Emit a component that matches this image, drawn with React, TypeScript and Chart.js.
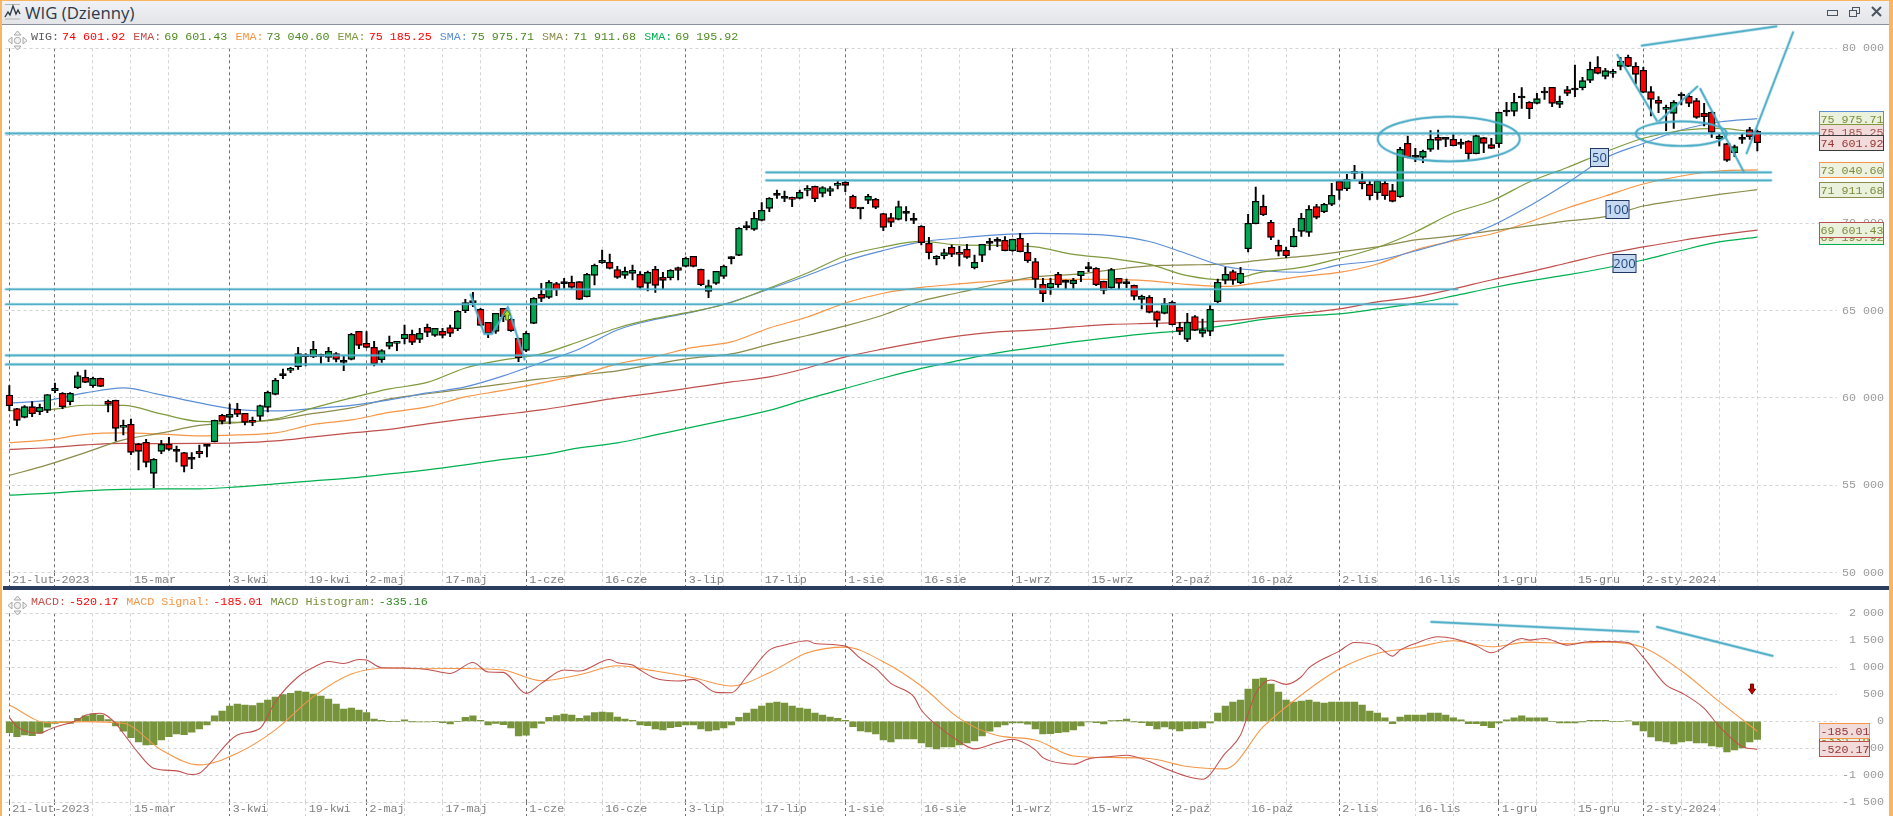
import React, { useEffect, useRef } from "react";
import { Chart, registerables } from "chart.js";

Chart.register(...registerables);

const opens = [
60167,59385,58889,59499,59213,59290,60415,60262,59785,60586,
61178,60701,61120,59804,59862,58317,58489,57364,57459,55685,
56944,57345,57001,56868,56544,56944,57268,57497,59004,58889,
59347,59118,58718,58946,59461,60205,61330,61578,61788,62398,
62341,62417,62322,62532,62093,62207,63809,63123,62894,62188,
62951,63123,63390,63638,63352,64038,63580,63809,64019,63962,
64992,65487,65068,64324,63809,65125,64496,63409,62722,64267,
65926,65754,66536,66574,66612,66650,65792,67013,67738,67756,
67337,67013,67127,67070,66555,67356,66898,66879,67451,67528,
68100,67356,66098,66555,66956,67985,68157,69759,69645,70159,
70846,71628,71456,71456,71418,71876,72105,71704,71818,72162,
72333,71532,70827,71304,71361,70541,70312,70217,70598,70178,
69816,68843,67966,68138,68615,68310,68500,67451,68157,68901,
69015,69015,68424,69130,68329,67795,66498,66307,67070,66670,
66536,66994,67413,67413,66670,66307,66841,66555,66441,65640,
65754,64934,64839,65468,64038,63351,64648,63695,63809,65506,
66727,67223,66593,68538,69969,70960,70045,68729,68443,68653,
69530,69473,70941,70655,71075,72389,71970,72866,72408,72218,
71741,72275,71855,71512,74563,73801,73762,74220,74907,74811,
74792,74544,74678,73972,74888,74487,74544,76394,76394,77195,
76909,76852,77481,77767,76795,77634,77653,77748,78168,78911,
78396,78568,78968,79483,78968,78740,77519,77023,76508,76280,
77309,77252,77004,76280,76337,74830,74544,74029,74849,75345,
75250];
const closes = [
59557,58718,59499,59099,59461,60186,60548,59499,60262,61273,
60892,61120,60663,59633,58260,58432,56887,56944,56315,56487,
57345,57058,56944,56086,56487,56810,57230,58718,58660,59061,
59061,58603,58603,59557,60320,61006,61273,61693,62532,62360,
62780,62379,62665,62207,62036,63638,63008,62894,61959,62703,
63180,63237,63638,63180,63695,63752,63981,63580,63695,64953,
65449,65449,64152,63695,64839,64648,63847,62284,63695,65697,
65697,66612,66174,66536,66327,65640,67070,67585,67871,67413,
66898,67242,67299,66327,67184,66441,66727,67299,67299,67985,
67528,66479,66422,67242,67528,67966,69702,69740,70274,70731,
71418,71590,71418,71361,71761,71971,71399,72028,71971,72257,
72162,70846,70808,71532,70903,69759,70045,70941,70560,70159,
68882,68310,68100,68310,68214,68214,68043,67757,68786,68843,
68958,68424,69072,68367,67852,66784,65964,66555,66479,66612,
66727,67242,67394,66479,66155,67337,66555,66536,65812,65812,
64897,64438,65392,64191,63809,64324,63866,63904,65068,66612,
67070,66727,67127,69988,71246,70484,69187,68386,68138,69244,
70274,70789,70331,71075,71590,71875,72504,72847,72256,71569,
72408,71569,71245,74220,73762,73762,74106,74792,74735,74792,
74430,74506,73972,75002,74563,74277,76337,76356,76909,77157,
76547,77119,77443,76852,76966,77424,77615,78148,78797,78568,
78721,78663,79274,78968,78511,77481,77080,76852,76604,76909,
77271,76852,76051,76089,75193,74964,73591,74373,74792,74945,
74601.92];
const highs = [
60701,59404,59557,59785,59652,60186,60853,60300,60300,61483,
61597,61197,61140,59881,59881,58737,58794,57402,57631,56525,
57573,57745,57249,56887,56868,57306,57287,58737,59061,59652,
59690,59118,58908,59595,60396,61120,61654,61750,62894,62532,
63237,62512,62894,62589,62398,63695,63809,63790,63237,62760,
63542,63237,64172,63886,63981,64229,63981,63981,64172,64992,
65640,66040,65125,64324,64839,65125,64553,63428,63790,65735,
66555,66708,66612,66841,66975,66650,67127,67661,68462,68233,
67528,67490,67604,67223,67261,67528,67184,67337,67490,68062,
68100,67375,66746,67242,67604,68081,69740,70083,70617,71170,
71456,71895,71838,71494,71895,72143,72124,72085,72085,72410,
72410,71609,70846,71647,71418,70560,70560,71265,70941,70560,
69854,69187,68138,68519,68748,68672,68786,68176,68786,69130,
69168,69225,69091,69416,68843,67985,66841,66841,67184,66746,
66841,67242,67757,67451,66689,67413,66841,66803,66460,65888,
65850,64972,65697,65544,64324,64839,64705,64515,65277,66803,
67471,67318,67471,70503,72066,71609,70159,69034,68634,69702,
70560,70998,71075,71132,72276,72467,72790,73305,72961,72408,
72466,72389,72218,74334,74983,74277,74182,75288,75326,74830,
75059,74811,74716,75040,74907,74849,76356,76909,77424,77748,
76947,77424,77767,77767,77271,77824,79045,78339,79216,79522,
78854,78797,79483,79617,79178,78911,77805,77233,76756,77004,
77462,77424,77138,76852,76375,75078,74563,74468,75135,75479,
75326];
const lows = [
59270,58412,58851,58927,59042,59156,60300,59385,59595,60529,
60872,60605,60644,59194,57535,57878,56753,55876,56048,54865,
56810,57001,56334,55762,55953,56582,56620,57478,58508,58508,
58927,58450,58412,58718,59194,60167,61101,61445,61635,61826,
62303,61978,62074,62055,61559,62169,62818,62856,61826,62036,
62798,62703,63085,63046,63161,63504,63523,63428,63504,63847,
64877,65220,64133,63447,63695,64362,63809,62074,62646,64248,
65506,65697,65850,66269,66269,65621,65773,66460,67699,67375,
66841,66841,66746,66269,66116,66040,66193,66746,66746,67490,
67490,66422,65735,66498,66841,67661,68138,69606,69587,70121,
70655,71418,71227,70941,71380,71552,71227,71494,71571,71952,
71799,70827,70236,71113,70827,69568,69797,70178,70121,69969,
68748,67947,67604,67947,68081,67547,67985,67375,67795,68462,
68653,68405,68386,68348,67757,66307,65506,65926,66327,66231,
66269,66650,67223,66422,65945,66269,66231,66307,65603,65087,
64858,64057,64801,64171,63618,63218,63847,63485,63561,65430,
66517,66498,66536,68348,69950,70426,69053,68119,68024,68634,
69244,69244,70236,70598,70998,71359,71855,72523,71951,71321,
71359,71359,71207,71474,73724,73514,73457,74106,74220,74373,
74411,74277,73648,73953,74029,74258,74334,76127,76127,76566,
75974,76814,77080,76661,76604,77290,77233,77615,78034,78530,
78244,78339,78759,78949,77958,77462,76127,76318,75288,75421,
76756,76661,75993,75555,74907,74411,73533,73800,74563,74792,
74125];

// Moving averages, read every fifth bar.
const anchorStep = 5;
const ema200 = [57052,57149,57309,57395,57383,57395,57423,57538,57767,57995,58196,58510,58796,59054,59311,59654,59997,60283,60598,60913,61199,61713,62343,62800,63201,63544,63773,63887,64059,64202,64259,64316,64402,64602,64831,65088,65489,65775,66232,66747,67205,67719,68234,68635,69006,69321,69601.43];
const sma200 = [54438,54535,54678,54764,54792,54792,54907,55078,55250,55421,55650,55879,56165,56480,56737,57137,57423,57881,58339,58796,59282,59940,60541,61141,61685,62142,62571,62886,63201,63458,63687,63858,64144,64488,64688,64802,65088,65403,65832,66289,66690,67033,67433,67891,68434,68921,69195.92];
const ema100 = [57441,57595,57910,57995,57927,57824,57881,57995,58482,58739,59168,59483,60055,60426,60855,61313,61942,62371,62886,63201,64001,64631,65431,65986,66318,66518,66690,66776,66776,66776,66690,66490,66375,66633,66947,67176,67662,68463,68978,69378,70065,70865,71552,72238,72696,72982,73040.6];
const sma100 = [55564,56165,56869,57595,57995,58424,58585,58739,59111,59425,59940,60238,60512,60798,61084,61313,61542,61942,62285,62514,63058,63572,64116,64745,65546,66032,66518,66919,67062,67319,67548,67605,67662,67891,68091,68349,68635,69035,69264,69550,69836,70122,70368,70980,71323,71638,71911.68];
const sma50 = [59711,59854,60283,60569,60169,59711,59340,59254,59385,59568,59883,60283,60627,61256,62028,62800,63887,64488,64917,65489,66232,67004,67834,68434,68921,69149,69321,69407,69378,69281,68949,68234,67519,67273,67187,67605,67862,68406,69035,69836,70980,72295,73725,74555,75327,75785,75975.71];
const ema50 = [59271,59311,59580,59568,59082,58653,58607,58796,59425,59997,60512,60884,61713,62171,62514,63229,64001,64545,64945,65460,66289,67147,68120,68635,68949,68749,68720,68635,68206,67977,67634,66993,66747,67205,67462,67977,68606,69493,70579,71266,72353,73182,74069,74852,75298,75424,75185.25];

// MACD pane: line read where it turns, signal read every fifth bar.
const macdBars = [0,1,4,5,6,9,10,12,14,15,17,19,22,24,25,26,30,33,35,38,40,42,44,46,47,49,52,55,58,61,63,65,68,70,73,75,79,80,82,83,85,88,90,93,95,97,100,102,105,106,110,112,114,116,119,120,122,125,127,130,132,135,136,139,140,142,145,147,150,152,155,157,160,162,164,166,168,170,171,175,177,180,182,183,185,188,190,193,195,199,200,202,205,208,210,213,215,218,220,223,225,228,230];
const macdValues = [74,-99,-222,-166,-111,25,111,148,-37,-222,-591,-869,-918,-986,-961,-838,-253,-129,363,825,998,1109,1072,1146,1133,992,986,961,887,1090,912,906,517,702,949,930,1146,1084,1041,949,795,745,776,536,530,825,1318,1411,1491,1441,1392,1164,979,702,456,209,-68,-376,-511,-394,-333,-530,-672,-788,-795,-696,-653,-628,-745,-869,-1023,-1072,-591,-253,517,764,684,825,990,1300,1460,1398,1207,1318,1441,1565,1534,1398,1269,1534,1503,1534,1411,1478,1478,1460,1183,671,530,240,-99,-468,-520.17];
const signalLine = [302,-25,-6,-37,-530,-807,-591,-160,456,875,986,973,979,949,752,862,1029,930,807,653,899,1269,1374,1103,653,55,-265,-345,-641,-671,-690,-838,-881,-99,487,967,1257,1368,1491,1380,1466,1441,1466,1368,936,363,-185.01];
const histogram = [
-209,-283,-253,-265,-222,-111,-37,-25,-37,55,
99,136,117,31,-86,-185,-302,-382,-437,-431,
-345,-283,-234,-246,-203,-142,-68,99,191,283,
320,302,290,339,394,450,493,517,561,542,
505,468,413,320,228,246,209,160,43,18,
0,0,25,-6,-12,-12,0,-25,-49,0,
74,99,18,-68,-37,-62,-123,-271,-259,-123,
-37,74,105,136,117,55,99,160,172,160,
80,43,18,-68,-80,-142,-160,-117,-99,-68,
-68,-142,-179,-160,-123,-68,74,154,228,283,
339,357,339,283,246,228,154,117,80,55,
18,-99,-179,-197,-234,-345,-382,-326,-326,-326,
-400,-474,-511,-474,-474,-437,-400,-363,-271,-185,
-105,-68,-31,-31,-55,-142,-234,-228,-209,-197,
-160,-86,-12,-25,-49,12,18,43,-6,-25,
-80,-142,-105,-142,-179,-142,-136,-123,-31,154,
283,357,394,598,782,801,690,542,394,357,
376,394,357,339,357,357,357,357,302,191,
154,62,-43,80,117,117,117,154,154,117,
62,25,-43,-43,-80,-117,-31,25,62,99,
62,62,62,0,-31,-31,-31,-6,18,18,
18,0,0,6,-68,-179,-290,-363,-382,-419,
-382,-363,-400,-400,-456,-474,-567,-530,-493,-382,
-335.16];

// X axis
const xLabelBars = [0,16,29,39,47,57,68,78,89,99,110,120,132,142,153,163,175,185,196,206,215];
const xLabels = ["21-lut-2023","15-mar","3-kwi","19-kwi","2-maj","17-maj","1-cze","16-cze","3-lip","17-lip","1-sie","16-sie","1-wrz","15-wrz","2-paź","16-paź","2-lis","16-lis","1-gru","15-gru","2-sty-2024"];
const monthBars = [0,6,29,47,68,89,110,132,153,175,196,215];
const minorBars = [11,16,21,34,39,52,57,62,73,78,83,94,99,104,115,120,125,137,142,147,158,163,168,180,185,190,201,206,211,220,225,230];

// Drawn objects, in bars and values
const levelValues = [75138,72902,72445,66215,65357,62429,61914];
const levelFrom = [-0.44,99.6,99.6,-0.44,-0.44,-0.44,-0.44];
const levelTo = [238.1,231.8,231.8,190.5,190.5,167.6,167.6];
const priceTrends = [
  [[214.8,80149],[232.5,81259]],
  [[228.6,74000],[234.7,80915]],
  [[60.7,65906],[62.5,63658],[63.5,63658],[65.6,65203],[67.8,62200]],
  [[211.6,79617],[216.8,75842]],
  [[217.1,75842],[222.1,77804]],
  [[222.5,77672],[228.2,72942]],
];
const ellipses = [
  [189.4,74812,9.34,1281],
  [220,75115,6,704],
];
const periodTags = [["50",209.2,73783],["100",211.5,70808],["200",212.4,67720]];
const macdTrends = [
  [[187.1,1841],[214.4,1656]],
  [[216.8,1748],[232,1212]],
];
const upArrow = [65.5,64745];
const downArrow = [229.3,597];

const priceBoxes = [
  ["69 195.92",69195.92,"#00B050","#EAF1DD","#7F8B3B"],
  ["69 601.43",69601.43,"#C0504D","#EAF1DD","#7F8B3B"],
  ["71 911.68",71911.68,"#8B8B4B","#EAF1DD","#7F8B3B"],
  ["73 040.60",73040.6,"#F79646","#EEF3E1","#7F8B3B"],
  ["75 975.71",75975.71,"#5B8ED6","#EAF1DD","#7F8B3B"],
  ["75 185.25",75185.25,"#7F9A3C","#F2DCDB","#A0524F"],
  ["74 601.92",74601.92,"#3B3B3B","#F2DCDB","#953735"],
];
const macdBoxes = [
  ["-335.16",-335.16,"#00A050","#EAF1DD","#7F8B3B"],
  ["-185.01",-185.01,"#F79646","#F2DCDB","#953735"],
  ["-520.17",-520.17,"#C0504D","#F2DCDB","#953735"],
];

const legendPrice = [
  ["WIG:","#5A5A5A","74 601.92","#FF0000"],
  ["EMA:","#C0504D","69 601.43","#4E8A1E"],
  ["EMA:","#F79646","73 040.60","#4E8A1E"],
  ["EMA:","#7F9A3C","75 185.25","#FF0000"],
  ["SMA:","#5B8ED6","75 975.71","#4E8A1E"],
  ["SMA:","#8B8B4B","71 911.68","#4E8A1E"],
  ["SMA:","#00B050","69 195.92","#4E8A1E"],
];
const legendMacd = [
  ["MACD:","#C0504D","-520.17","#FF0000"],
  ["MACD Signal:","#F79646","-185.01","#FF0000"],
  ["MACD Histogram:","#76923C","-335.16","#2E8B1E"],
];

const MONO = "'Liberation Mono', monospace";
const TEAL = "75,172,198";
const BAR_COUNT = 241;

const fmt = (n: number) => {
  const a = Math.abs(n);
  const s = a >= 1000 ? `${Math.floor(a / 1000)} ${String(a % 1000).padStart(3, "0")}` : String(a);
  return (n < 0 ? "-" : "") + s;
};
const sparse = (vals: number[], bars?: number[]) => {
  const out: (number | null)[] = new Array(opens.length).fill(null);
  vals.forEach((v, k) => { out[bars ? bars[k] : k * anchorStep] = v; });
  return out;
};
const lineSet = (label: string, data: (number | null)[], color: string, order: number, width = 1.2) => ({
  type: "line" as const, label, data, borderColor: color, borderWidth: width,
  pointRadius: 0, spanGaps: true, cubicInterpolationMode: "monotone" as const, order,
});
const tealStroke = (ctx: any, path: () => void) => {
  ctx.save();
  ctx.lineCap = "round";
  ctx.lineJoin = "round";
  ctx.strokeStyle = `rgba(${TEAL},0.35)`;
  ctx.lineWidth = 3.2;
  ctx.beginPath(); path(); ctx.stroke();
  ctx.strokeStyle = `rgba(${TEAL},0.95)`;
  ctx.lineWidth = 1.7;
  ctx.beginPath(); path(); ctx.stroke();
  ctx.restore();
};
const drawPolys = (chart: any, polys: number[][][]) => {
  const { ctx, scales: { x, y } } = chart;
  polys.forEach((pts) => tealStroke(ctx, () => {
    pts.forEach(([b, v], k) => {
      const px = x.getPixelForValue(b), py = y.getPixelForValue(v);
      if (k) ctx.lineTo(px, py); else ctx.moveTo(px, py);
    });
  }));
};
const drawBoxes = (chart: any, boxes: any[], w: number) => {
  const { ctx, scales: { y } } = chart;
  ctx.save();
  ctx.font = `11.7px ${MONO}`;
  ctx.textBaseline = "middle";
  ctx.textAlign = "left";
  boxes.forEach(([text, v, border, fill, color]) => {
    const py = Math.round(y.getPixelForValue(v));
    ctx.fillStyle = fill;
    ctx.fillRect(1819.5, py - 7.5, w, 15);
    ctx.strokeStyle = border;
    ctx.lineWidth = 1;
    ctx.strokeRect(1819.5, py - 7.5, w, 15);
    ctx.fillStyle = color;
    ctx.fillText(text, 1820.5, py + 0.5);
  });
  ctx.restore();
};
const blockArrow = (ctx: any, px: number, py: number, dir: number, fill: string, stroke: string) => {
  ctx.save();
  ctx.translate(px, py);
  ctx.scale(1, dir);
  ctx.beginPath();
  ctx.moveTo(0, -5); ctx.lineTo(3.5, 0); ctx.lineTo(1.5, 0); ctx.lineTo(1.5, 5);
  ctx.lineTo(-1.5, 5); ctx.lineTo(-1.5, 0); ctx.lineTo(-3.5, 0); ctx.closePath();
  ctx.fillStyle = fill; ctx.fill();
  ctx.strokeStyle = stroke; ctx.lineWidth = 1; ctx.stroke();
  ctx.restore();
};

const pricePlugin = {
  id: "priceOverlay",
  afterDatasetsDraw(chart: any) {
    const { ctx, scales: { x, y } } = chart;
    levelValues.forEach((v, k) => {
      const py = y.getPixelForValue(v);
      tealStroke(ctx, () => { ctx.moveTo(x.getPixelForValue(levelFrom[k]), py); ctx.lineTo(x.getPixelForValue(levelTo[k]), py); });
    });
    drawPolys(chart, priceTrends);
    ellipses.forEach(([b, v, rb, rv]) => {
      const cx = x.getPixelForValue(b), cy = y.getPixelForValue(v);
      const rx = Math.abs(x.getPixelForValue(b + rb) - cx), ry = Math.abs(y.getPixelForValue(v + rv) - cy);
      tealStroke(ctx, () => ctx.ellipse(cx, cy, rx, ry, 0, 0, Math.PI * 2));
    });
    blockArrow(ctx, x.getPixelForValue(upArrow[0]), y.getPixelForValue(upArrow[1]), 1, "#A6E22E", "#4F7A12");
    ctx.save();
    ctx.font = "13px 'Open Sans', sans-serif";
    ctx.textAlign = "center";
    ctx.textBaseline = "middle";
    periodTags.forEach(([t, b, v]: any) => {
      const cx = Math.round(x.getPixelForValue(b)), cy = Math.round(y.getPixelForValue(v));
      const w = t.length > 2 ? 23 : 18;
      ctx.fillStyle = "#C6D9F1";
      ctx.fillRect(cx - w / 2 + 0.5, cy - 9 + 0.5, w, 18);
      ctx.strokeStyle = "#1F3864";
      ctx.lineWidth = 1;
      ctx.strokeRect(cx - w / 2 + 0.5, cy - 9 + 0.5, w, 18);
      ctx.fillStyle = "#1F497D";
      ctx.fillText(t, cx + 0.5, cy + 1);
    });
    ctx.restore();
    drawBoxes(chart, priceBoxes, 64);
  },
};
const macdPlugin = {
  id: "macdOverlay",
  afterDatasetsDraw(chart: any) {
    const { ctx, scales: { x, y } } = chart;
    drawPolys(chart, macdTrends);
    blockArrow(ctx, x.getPixelForValue(downArrow[0]), y.getPixelForValue(downArrow[1]), -1, "#C00000", "#7A0000");
    drawBoxes(chart, macdBoxes, 50);
  },
};

const xAxis = (height: number) => ({
  type: "category" as const,
  offset: true,
  afterFit: (s: any) => { s.height = height; },
  border: { display: false, dash: [3, 3] },
  grid: {
    drawOnChartArea: true,
    drawTicks: true,
    tickLength: height,
    tickBorderDash: [3, 3],
    offset: false,
    color: (c: any) => (monthBars.includes(c.index) ? "#6E6E6E" : "#D4D4D4"),
    lineWidth: (c: any) => (monthBars.includes(c.index) || minorBars.includes(c.index) ? 1 : 0),
  },
  ticks: {
    autoSkip: false,
    maxRotation: 0,
    align: "start" as const,
    labelOffset: 3,
    padding: -height,
    color: "#808080",
    font: { family: "'Liberation Mono', monospace", size: 11.7 },
    callback: (_v: any, i: number) => {
      const k = xLabelBars.indexOf(i);
      return k >= 0 ? xLabels[k] : "";
    },
  },
});
const yAxis = (min: number, max: number, step: number) => ({
  type: "linear" as const,
  position: "right" as const,
  min, max,
  afterFit: (s: any) => { s.width = 46.87; },
  border: { display: false, dash: [3, 3] },
  grid: { color: "#D4D4D4", lineWidth: 1, drawTicks: false },
  ticks: {
    stepSize: step,
    autoSkip: false,
    padding: 0,
    crossAlign: "far" as const,
    color: "#9A9A9A",
    font: { family: "'Liberation Mono', monospace", size: 11.7 },
    callback: (v: any) => fmt(Number(v)),
  },
});

const Handle = ({ top }: { top: number }) => (
  <svg width={21} height={21} style={{ position: "absolute", left: 7, top }} viewBox="0 0 21 21">
    <g fill="#F2F2F2" stroke="#A8A8A8" strokeWidth="1">
      <path d="M10.5 1 L14 5 L7 5 Z" />
      <path d="M10.5 20 L14 16 L7 16 Z" />
      <path d="M1 10.5 L5 7 L5 14 Z" />
      <path d="M20 10.5 L16 7 L16 14 Z" />
      <circle cx="10.5" cy="10.5" r="3.2" />
    </g>
  </svg>
);

const LegendRow = ({ top, rows }: { top: number; rows: string[][] }) => (
  <div style={{ position: "absolute", left: 31, top, height: 14, lineHeight: "14px", whiteSpace: "pre", fontFamily: MONO, fontSize: 11.7 }}>
    {rows.map(([label, lc, value, vc], i) => (
      <span key={i} style={{ marginLeft: i ? 8 : 0 }}>
        <span style={{ color: lc }}>{label}</span>
        <span style={{ color: vc, marginLeft: 3 }}>{value}</span>
      </span>
    ))}
  </div>
);

export default function App() {
  const priceRef = useRef<HTMLCanvasElement>(null);
  const macdRef = useRef<HTMLCanvasElement>(null);

  useEffect(() => {
    const labels = Array.from({ length: BAR_COUNT }, (_, i) => String(i));
    const common = {
      responsive: false,
      animation: false as const,
      events: [] as any[],
      plugins: { legend: { display: false }, tooltip: { enabled: false } },
    };
    const isDoji = (i: number) => Math.abs(opens[i] - closes[i]) < 70;
    const price = new Chart(priceRef.current!, {
      type: "bar",
      data: {
        labels,
        datasets: [
          {
            type: "bar", label: "WIG body",
            data: opens.map((o, i) => [o, closes[i]]) as any,
            backgroundColor: opens.map((o, i) => (isDoji(i) ? "#000000" : closes[i] >= o ? "#00A651" : "#FF0000")),
            borderColor: "#000000", borderWidth: 1.3, borderSkipped: false,
            barThickness: 6.8, minBarLength: 2, grouped: false, order: 1,
          },
          {
            type: "bar", label: "WIG range",
            data: lows.map((l, i) => [l, highs[i]]) as any,
            backgroundColor: "#000000", borderWidth: 0,
            barThickness: 1.3, grouped: false, order: 2,
          },
          lineSet("EMA 50", sparse(ema50), "#7F9A3C", 3),
          lineSet("SMA 50", sparse(sma50), "#5B8ED6", 4),
          lineSet("SMA 100", sparse(sma100), "#8B8B4B", 5),
          lineSet("EMA 100", sparse(ema100), "#F79646", 6),
          lineSet("EMA 200", sparse(ema200), "#C0504D", 7),
          lineSet("SMA 200", sparse(sma200), "#00B050", 8),
        ] as any,
      },
      options: {
        ...common,
        layout: { padding: { left: 5.53, right: 0, top: 23.3, bottom: 0 } },
        scales: { x: xAxis(13.3), y: yAxis(50000, 80000, 5000) },
      } as any,
      plugins: [pricePlugin],
    });
    const macd = new Chart(macdRef.current!, {
      type: "bar",
      data: {
        labels,
        datasets: [
          lineSet("MACD", sparse(macdValues, macdBars), "#C0504D", 1, 1.05),
          lineSet("MACD Signal", sparse(signalLine), "#F79646", 2, 1.05),
          { type: "bar", label: "MACD Histogram", data: histogram, backgroundColor: "#77933C", borderWidth: 0, barThickness: 6.6, grouped: false, order: 3 },
        ] as any,
      },
      options: {
        ...common,
        layout: { padding: { left: 5.53, right: 0, top: 23.3, bottom: 0 } },
        scales: { x: xAxis(13.7), y: yAxis(-1500, 2000, 500) },
      } as any,
      plugins: [macdPlugin],
    });
    return () => { price.destroy(); macd.destroy(); };
  }, []);

  return (
    <div style={{ position: "absolute", left: 0, top: 0, width: 1893, height: 816, overflow: "hidden", background: "#FFFFFF" }}>
      <div style={{ position: "absolute", left: 0, top: 0, width: 1893, height: 1, background: "#F9B55F" }} />
      <div style={{ position: "absolute", left: 0, top: 0, width: 2, height: 816, background: "#F9B55F" }} />
      <div style={{ position: "absolute", right: 0, top: 0, width: 4, height: 816, background: "#F9B55F" }} />
      <div style={{ position: "absolute", left: 2, top: 1, width: 1887, height: 23, background: "linear-gradient(#F0F1F4,#E3E5E9)", borderBottom: "1px solid #8A8F99" }} />
      <svg width={18} height={18} style={{ position: "absolute", left: 4, top: 3 }} viewBox="0 0 18 18">
        <path d="M1 1.5 H16 M1 16 H16" stroke="#B5B5B5" fill="none" />
        <path d="M1 14 L4 9 L6 12 L9 3 L12 11 L14 7 L16 11" stroke="#2F3A46" strokeWidth="1.4" fill="none" />
      </svg>
      <div style={{ position: "absolute", left: 25, top: 2, height: 22, lineHeight: "22px", fontFamily: "'Open Sans', sans-serif", fontSize: 16.8, color: "#2B3A4A" }}>WIG (Dzienny)</div>
      <svg width={60} height={14} style={{ position: "absolute", left: 1825, top: 5 }} viewBox="0 0 60 14">
        <rect x="2.5" y="5.5" width="10" height="5" fill="#E8EAEE" stroke="#4A5460" />
        <rect x="27.5" y="2.5" width="7" height="6" fill="#E8EAEE" stroke="#4A5460" />
        <rect x="24.5" y="5.5" width="7" height="6" fill="#E8EAEE" stroke="#4A5460" />
        <path d="M47 2 L56 11 M56 2 L47 11" stroke="#4A5460" strokeWidth="2" fill="none" />
      </svg>

      <canvas ref={priceRef} width={1884} height={561} style={{ position: "absolute", left: 0, top: 25, display: "block" }} />
      <canvas ref={macdRef} width={1884} height={226} style={{ position: "absolute", left: 0, top: 590, display: "block" }} />

      <div style={{ position: "absolute", left: 3, top: 586, width: 1886, height: 4, background: "#2C3E5E" }} />

      <Handle top={30} />
      <LegendRow top={30} rows={legendPrice} />
      <Handle top={595} />
      <LegendRow top={595} rows={legendMacd} />
    </div>
  );
}
